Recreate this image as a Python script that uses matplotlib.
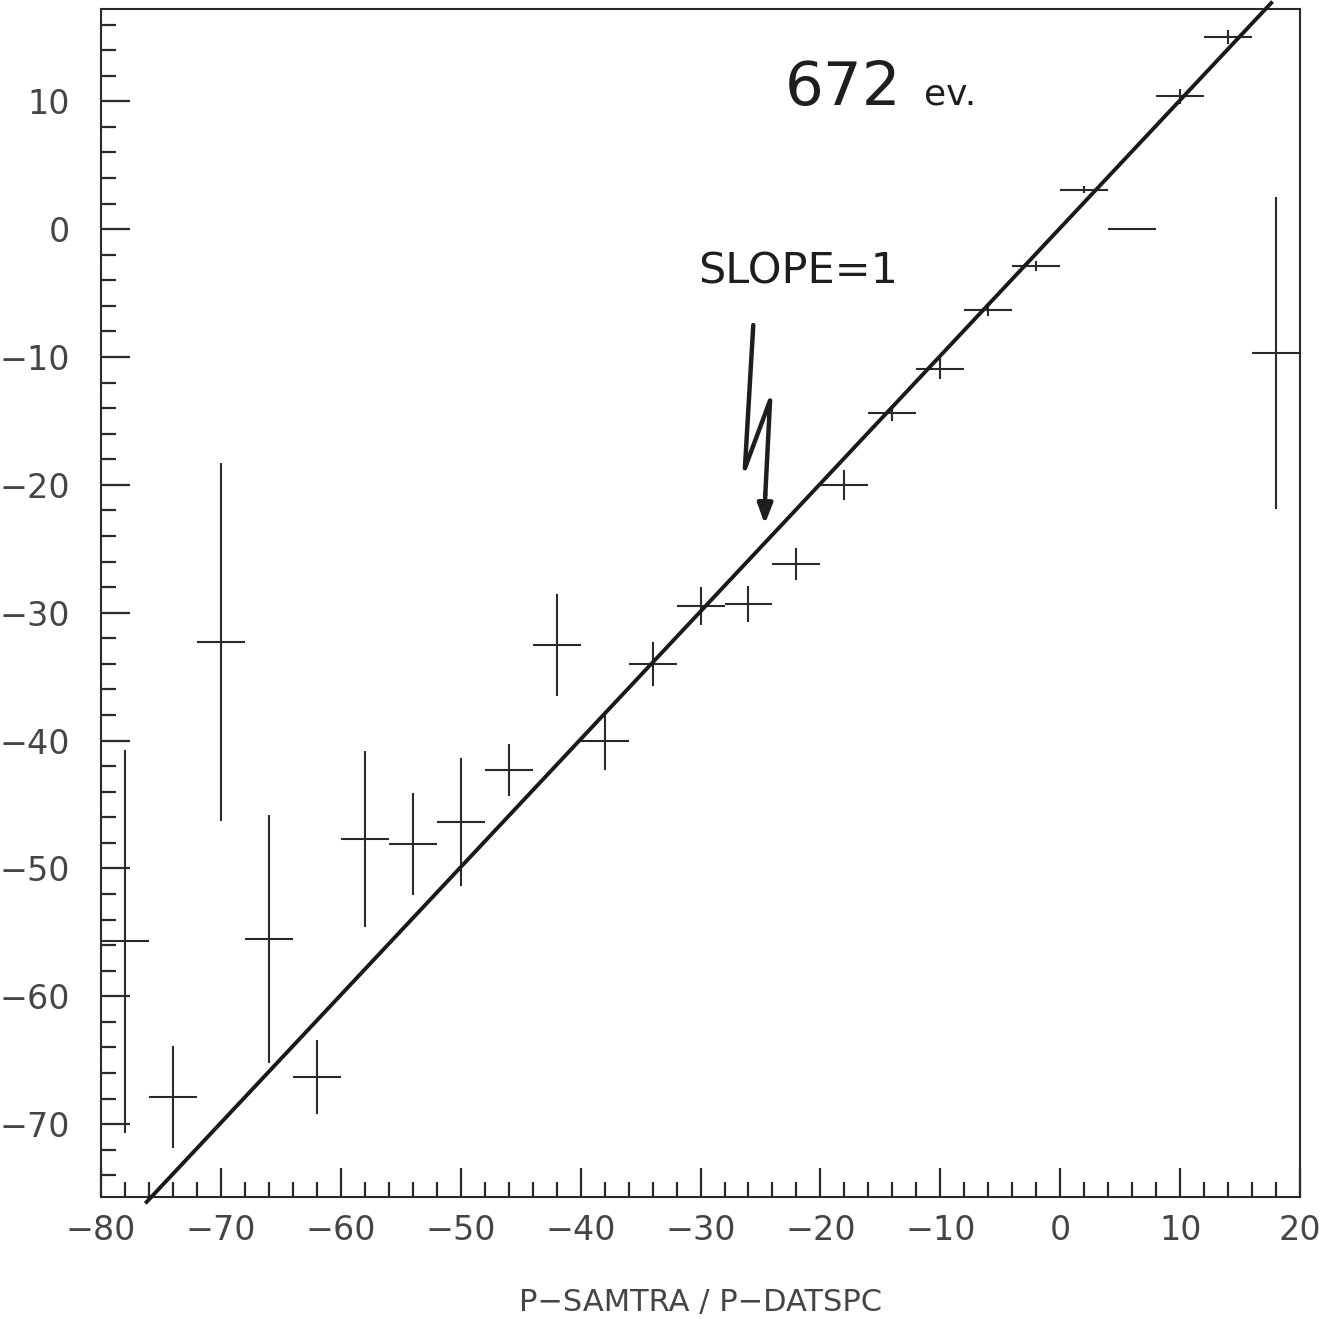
import numpy as np
import matplotlib
matplotlib.use("Agg")
import matplotlib.pyplot as plt
from matplotlib.ticker import MultipleLocator, FuncFormatter

# Data (bin centres, width 4)
x_vals = [-78, -74, -70, -66, -62, -58, -54, -50, -46, -42, -38, -34, -30,
          -26, -22, -18, -14, -10, -6, -2, 2, 6, 10, 14, 18]
y_vals = [-55.7, -67.9, -32.3, -55.5, -66.3, -47.7, -48.1, -46.4, -42.3, -32.5,
          -40.0, -34.0, -29.5, -29.3, -26.2, -20.0, -14.4, -10.9, -6.3, -2.9,
          3.1, 0.0, 10.4, 15.0, -9.7]
y_err = [15.0, 4.0, 14.0, 9.7, 2.9, 6.9, 4.0, 5.0, 2.0, 4.0,
         2.3, 1.7, 1.5, 1.4, 1.25, 1.2, 0.6, 0.8, 0.5, 0.4,
         0.3, 0.0, 0.6, 0.55, 12.2]
x_halfwidth = [2.0] * 25

slope_line_x = [-76.3, 17.7]
slope_offset = 0.1

x_label = "P\u2212SAMTRA / P\u2212DATSPC"

fig = plt.figure(figsize=(13.28, 13.19), dpi=100)
ax = fig.add_axes([0.076, 0.0925, 0.903, 0.9005])

ink = "#2a2a2a"
ax.errorbar(x_vals, y_vals, xerr=x_halfwidth, yerr=y_err, fmt="none",
            ecolor=ink, elinewidth=1.5, capsize=0, zorder=3)

lx = np.array(slope_line_x)
ax.plot(lx, lx + slope_offset, color="#1a1a1a", lw=2.8, clip_on=False,
        solid_capstyle="butt", zorder=4)

ax.set_xlim(-80, 20)
ax.set_ylim(-75.7, 17.2)

ax.xaxis.set_major_locator(MultipleLocator(10))
ax.xaxis.set_minor_locator(MultipleLocator(2))
ax.yaxis.set_major_locator(MultipleLocator(10))
ax.yaxis.set_minor_locator(MultipleLocator(2))

fmt = FuncFormatter(lambda v, p: ("\u2212%d" % abs(round(v))) if v < 0 else "%d" % round(v))
ax.xaxis.set_major_formatter(fmt)
ax.yaxis.set_major_formatter(fmt)

ax.tick_params(which="both", direction="in", top=False, right=False,
               color=ink, width=1.6, labelcolor="#454545", labelsize=24)
ax.tick_params(axis="y", which="major", length=21, pad=22)
ax.tick_params(axis="x", which="major", length=21, pad=12)
ax.tick_params(which="minor", length=11)
for lab in ax.get_xticklabels() + ax.get_yticklabels():
    lab.set_fontfamily("DejaVu Sans")
for s in ax.spines.values():
    s.set_color(ink)
    s.set_linewidth(1.5)

ax.set_xlabel(x_label, fontsize=22, color="#454545", family="DejaVu Sans",
              labelpad=30)

# Handwritten annotations
ax.text(-23.0, 11.0, "672", fontsize=44, color="#1e1e1e",
        family="DejaVu Sans", ha="left", va="center")
ax.text(-11.4, 10.5, "ev.", fontsize=26, color="#1e1e1e",
        family="DejaVu Sans", ha="left", va="center")
ax.text(-30.2, -3.3, "SLOPE=1", fontsize=31, color="#1e1e1e",
        family="DejaVu Sans", ha="left", va="center")

zig_x = [-25.6, -26.3, -24.2, -24.6]
zig_y = [-7.5, -18.7, -13.4, -20.8]
ax.plot(zig_x, zig_y, color="#1e1e1e", lw=3.2, solid_capstyle="round",
        solid_joinstyle="round", zorder=5)
ax.annotate("", xy=(-24.65, -23.3), xytext=(-24.6, -20.5),
            arrowprops=dict(arrowstyle="-|>,head_length=1.2,head_width=0.45",
                            color="#1e1e1e", lw=3.2), zorder=5)

fig.savefig("out.png", dpi=100)
